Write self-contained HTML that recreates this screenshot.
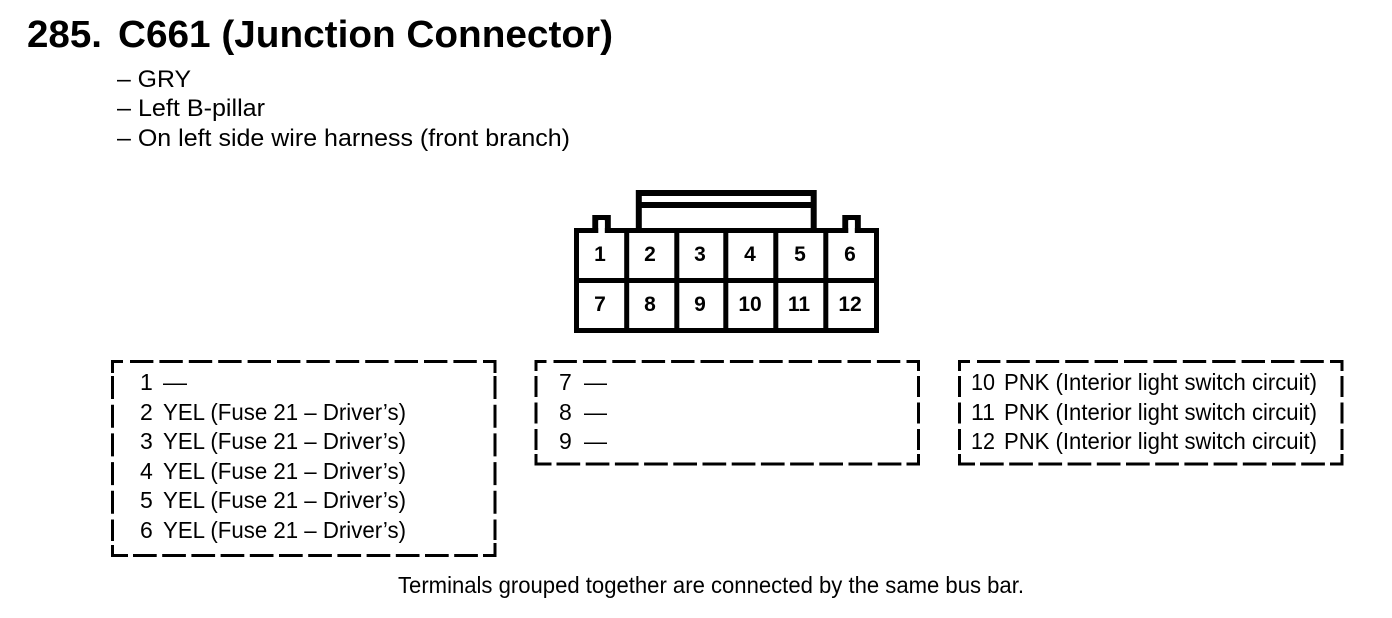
<!DOCTYPE html>
<html><head><meta charset="utf-8"><style>
html,body{margin:0;padding:0;background:#fff;width:1392px;height:618px;overflow:hidden}
svg{display:block}
text{font-family:"Liberation Sans",sans-serif;fill:#000;font-size:23px}
.n{font-weight:bold;font-size:21px;text-anchor:middle}
.t{font-weight:bold;font-size:38px}
.s{font-size:24.5px}
</style></head><body>
<svg width="1392" height="618" viewBox="0 0 1392 618" xmlns="http://www.w3.org/2000/svg">
<text class="t" x="27" y="47" textLength="75" lengthAdjust="spacingAndGlyphs">285.</text>
<text class="t" x="118" y="47" textLength="495" lengthAdjust="spacingAndGlyphs">C661 (Junction Connector)</text>
<text class="s" x="117" y="87" textLength="74" lengthAdjust="spacingAndGlyphs">– GRY</text>
<text class="s" x="117" y="116" textLength="148" lengthAdjust="spacingAndGlyphs">– Left B-pillar</text>
<text class="s" x="117" y="146" textLength="453" lengthAdjust="spacingAndGlyphs">– On left side wire harness (front branch)</text>

<g fill="none" stroke="#000" stroke-width="5">
<rect x="576.5" y="230.5" width="300" height="100"/>
<path d="M576.5 280.5H876.5M626.7 230.5V330.5M676.8 230.5V330.5M725.8 230.5V330.5M775.8 230.5V330.5M825.8 230.5V330.5"/>
</g>
<g fill="none" stroke="#000" stroke-width="6">
<path d="M638.8 231V193H813.7V231"/>
<path d="M638.8 205H813.7"/>
<path d="M595.3 231V218H607.8V231M845.3 231V218H857.8V231"/>
</g>
<path d="M598.3 220h6.5v13h-6.5zM848.3 220h6.5v13h-6.5z" fill="#fff"/>

<g>
<text class="n" x="600" y="261">1</text><text class="n" x="650" y="261">2</text><text class="n" x="700" y="261">3</text><text class="n" x="750" y="261">4</text><text class="n" x="800" y="261">5</text><text class="n" x="850" y="261">6</text>
<text class="n" x="600" y="311">7</text><text class="n" x="650" y="311">8</text><text class="n" x="700" y="311">9</text><text class="n" x="750" y="311">10</text><text class="n" x="799" y="311">11</text><text class="n" x="850" y="311">12</text>
</g>

<g fill="none" stroke="#000" stroke-width="3">
<!-- box 1 -->
<g>
<path d="M112.5 373V361.5H123M483 361.5H495V373M112.5 545V555.5H128M483 555.5H495V543"/>
<path d="M130 361.5H477" stroke-dasharray="23.4 6"/>
<path d="M133 555.5H478" stroke-dasharray="23.7 5.5"/>
<path d="M112.5 376V541M495 376V540" stroke-dasharray="23 5.7"/>
</g>
<!-- box 2 -->
<g transform="translate(423.5 0)">
<path d="M112.5 371V361.5H123M483 361.5H495V371M112.5 454V464H128M483 464H495V454"/>
<path d="M130 361.5H477" stroke-dasharray="23.4 6"/>
<path d="M133 464H478" stroke-dasharray="23.7 5.5"/>
<path d="M112.5 376V450M495 376V450" stroke-dasharray="21 5.5"/>
</g>
<!-- box 3 -->
<g transform="translate(847 0)">
<path d="M112.5 371V361.5H123M483 361.5H495V371M112.5 454V464H128M483 464H495V454"/>
<path d="M130 361.5H477" stroke-dasharray="23.4 6"/>
<path d="M133 464H478" stroke-dasharray="23.7 5.5"/>
<path d="M112.5 376V450M495 376V450" stroke-dasharray="21 5.5"/>
</g>
</g>

<g>
<text x="140" y="390">1</text><text x="163" y="390" textLength="24" lengthAdjust="spacingAndGlyphs">—</text>
<text x="140" y="420">2</text><text x="163" y="420" textLength="243" lengthAdjust="spacingAndGlyphs">YEL (Fuse 21 – Driver’s)</text>
<text x="140" y="449">3</text><text x="163" y="449" textLength="243" lengthAdjust="spacingAndGlyphs">YEL (Fuse 21 – Driver’s)</text>
<text x="140" y="479">4</text><text x="163" y="479" textLength="243" lengthAdjust="spacingAndGlyphs">YEL (Fuse 21 – Driver’s)</text>
<text x="140" y="508">5</text><text x="163" y="508" textLength="243" lengthAdjust="spacingAndGlyphs">YEL (Fuse 21 – Driver’s)</text>
<text x="140" y="538">6</text><text x="163" y="538" textLength="243" lengthAdjust="spacingAndGlyphs">YEL (Fuse 21 – Driver’s)</text>

<text x="559" y="390">7</text><text x="584" y="390" textLength="23" lengthAdjust="spacingAndGlyphs">—</text>
<text x="559" y="420">8</text><text x="584" y="420" textLength="23" lengthAdjust="spacingAndGlyphs">—</text>
<text x="559" y="449">9</text><text x="584" y="449" textLength="23" lengthAdjust="spacingAndGlyphs">—</text>

<text x="971" y="390" textLength="24" lengthAdjust="spacingAndGlyphs">10</text><text x="1004" y="390" textLength="313" lengthAdjust="spacingAndGlyphs">PNK (Interior light switch circuit)</text>
<text x="971" y="420" textLength="24" lengthAdjust="spacingAndGlyphs">11</text><text x="1004" y="420" textLength="313" lengthAdjust="spacingAndGlyphs">PNK (Interior light switch circuit)</text>
<text x="971" y="449" textLength="24" lengthAdjust="spacingAndGlyphs">12</text><text x="1004" y="449" textLength="313" lengthAdjust="spacingAndGlyphs">PNK (Interior light switch circuit)</text>

<text x="398" y="593" textLength="626" lengthAdjust="spacingAndGlyphs">Terminals grouped together are connected by the same bus bar.</text>
</g>
</svg>
</body></html>
